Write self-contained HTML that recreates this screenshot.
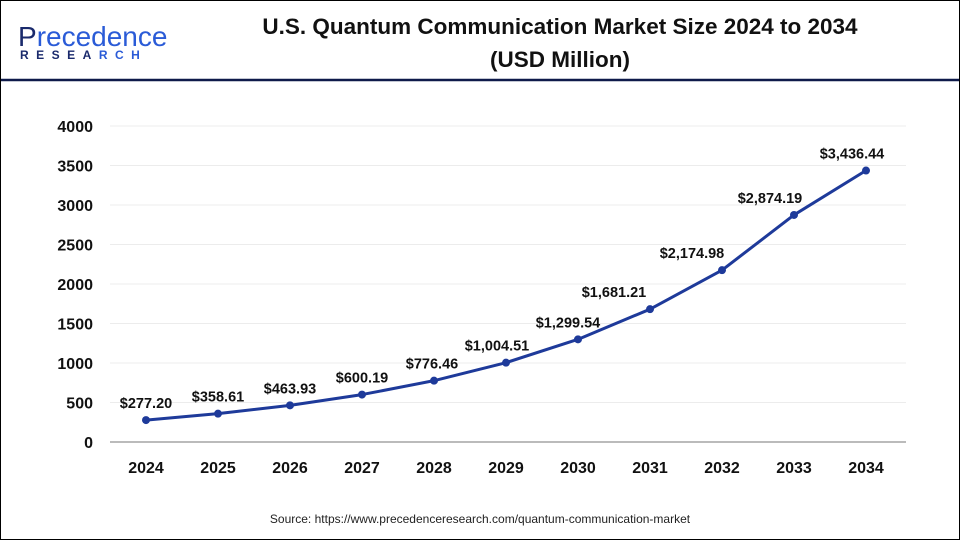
<!DOCTYPE html>
<html><head><meta charset="utf-8"><style>
body{margin:0;width:960px;height:540px;overflow:hidden;background:#fff;font-family:"Liberation Sans",sans-serif}
#frame{position:absolute;left:0;top:0;width:958px;height:538px;border:1px solid #000}
</style></head><body>
<div id="frame"></div>
<svg width="960" height="540" style="position:absolute;left:0;top:0">
<g>
<text x="18" y="46" font-size="28" fill="#1a2a6c" font-family="Liberation Sans">P<tspan fill="#2a5bd7">recedence</tspan></text>
<text x="20" y="59" font-size="12" font-weight="bold" fill="#1a2a6c" letter-spacing="7.5">RESEA<tspan fill="#2a5bd7">RCH</tspan></text>
</g>
<text x="560" y="34" text-anchor="middle" font-size="22.5" font-weight="bold" fill="#111">U.S. Quantum Communication Market Size 2024 to 2034</text>
<text x="560" y="67" text-anchor="middle" font-size="22.5" font-weight="bold" fill="#111">(USD Million)</text>
<line x1="1" y1="80" x2="959" y2="80" stroke="#0f1a4a" stroke-width="2.5"/>
<g id="grid"></g><g id="axes"></g><g id="series"></g>
<text x="480" y="523" text-anchor="middle" font-size="12" fill="#222">Source: https://www.precedenceresearch.com/quantum-communication-market</text>
</svg>
<script>
const categories=["2024","2025","2026","2027","2028","2029","2030","2031","2032","2033","2034"];
const values=[277.20,358.61,463.93,600.19,776.46,1004.51,1299.54,1681.21,2174.98,2874.19,3436.44];
const valueLabels=["$277.20","$358.61","$463.93","$600.19","$776.46","$1,004.51","$1,299.54","$1,681.21","$2,174.98","$2,874.19","$3,436.44"];
const yTicks=[0,500,1000,1500,2000,2500,3000,3500,4000];
const labelShift=[0,0,0,0,-2,-9,-10,-36,-30,-24,-14];
const NS="http://www.w3.org/2000/svg";
const x=i=>146+i*72;
const y=v=>442-v*(316/4000);
function mk(t,a,p){const e=document.createElementNS(NS,t);for(const k in a)e.setAttribute(k,a[k]);p.appendChild(e);return e;}
const grid=document.getElementById('grid'),axes=document.getElementById('axes'),ser=document.getElementById('series');
yTicks.forEach(v=>{
 if(v>0){const g=mk('line',{x1:110,x2:906,y1:y(v),y2:y(v),stroke:'#ececec','stroke-width':1},grid);
 
 }
 const t=mk('text',{x:93,y:y(v)+6,'text-anchor':'end','font-size':16,'font-weight':'bold',fill:'#111'},axes);
 t.textContent=v;
 
 
});
const ax=mk('line',{x1:110,x2:906,y1:y(0),y2:y(0),stroke:'#bbb','stroke-width':2},axes);


categories.forEach((c,i)=>{
 const t=mk('text',{x:x(i),y:473,'text-anchor':'middle','font-size':16,'font-weight':'bold',fill:'#111'},axes);
 t.textContent=c;
 
 
});
const pl=mk('polyline',{points:values.map((v,i)=>x(i)+','+y(v)).join(' '),fill:'none',stroke:'#1e3a9a','stroke-width':3,'stroke-linejoin':'round'},ser);


values.forEach((v,i)=>{
 const d=mk('circle',{cx:x(i),cy:y(v),r:4,fill:'#1e3a9a'},ser);
 
 
 const t=mk('text',{x:x(i)+labelShift[i],y:y(v)-12,'text-anchor':'middle','font-size':14.5,'font-weight':'bold',fill:'#111'},ser);
 t.textContent=valueLabels[i];
 
 
});
</script>
</body></html>
